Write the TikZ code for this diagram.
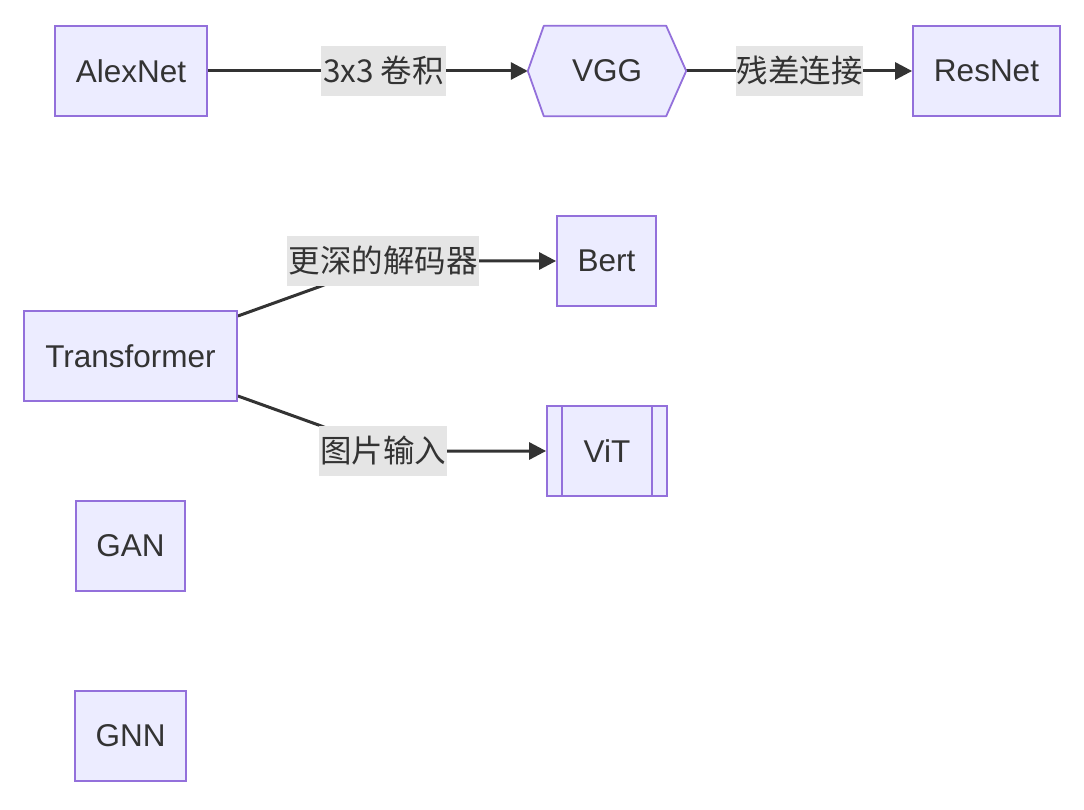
\documentclass[tikz,border=0pt]{standalone}
\usepackage{fontspec}
\setmainfont{Liberation Sans}
\newfontfamily\cjk{Noto Sans CJK SC}
\usetikzlibrary{arrows.meta,backgrounds}
\definecolor{nodefill}{HTML}{ECECFF}
\definecolor{nodeline}{HTML}{9370DB}
\definecolor{edgecol}{HTML}{333333}
\definecolor{labelbg}{RGB}{229,229,229}
\pgfdeclarelayer{edgelayer}
\pgfsetlayers{background,edgelayer,main}
\tikzset{
  box/.style={draw=nodeline, fill=nodefill, line width=1.8pt, inner sep=0pt,
    minimum height=90pt, text=edgecol, font=\fontsize{31.5}{36}\selectfont},
  plain/.style={draw=none, inner sep=0pt, minimum height=90pt, text=edgecol,
    font=\fontsize{31.5}{36}\selectfont},
  lbl/.style={fill=labelbg, inner sep=0pt, minimum height=50pt, text=edgecol,
    font=\fontsize{31.5}{36}\selectfont\cjk},
  edge/.style={draw=edgecol, line width=3pt, -{Triangle[length=17pt,width=17pt]}},
}
\begin{document}
\begin{tikzpicture}[x=1pt,y=-1pt]
\useasboundingbox (0,0) rectangle (1084,810);
% nodes
\node[box, minimum width=152pt] (alex) at (131,71) {AlexNet};
\node[plain, minimum width=158pt] (vgg) at (607,71) {VGG};
\node[box, minimum width=147pt] (res) at (986.5,71) {ResNet};
\node[box, minimum width=99pt] (bert) at (606.5,261) {Bert};
\node[box, minimum width=213pt] (tr) at (130.5,356) {Transformer};
\node[box, minimum width=120pt] (vit) at (607,451) {ViT};
\node[box, minimum width=109pt] (gan) at (130.5,546) {GAN};
\node[box, minimum width=111pt] (gnn) at (130.5,736) {GNN};
% hexagon for VGG
\begin{scope}[on background layer]
\fill[nodefill] (vgg.west) -- ([xshift=16pt]vgg.north west) -- ([xshift=-20pt]vgg.north east)
  -- (vgg.east) -- ([xshift=-20pt]vgg.south east) -- ([xshift=16pt]vgg.south west) -- cycle;
\end{scope}
\draw[nodeline, line width=1.8pt, line join=round] (vgg.west) -- ([xshift=16pt]vgg.north west) -- ([xshift=-20pt]vgg.north east)
  -- (vgg.east) -- ([xshift=-20pt]vgg.south east) -- ([xshift=16pt]vgg.south west) -- cycle;
% subroutine lines for ViT
\draw[nodeline, line width=1.8pt] ([xshift=16pt]vit.north west) -- ([xshift=16pt]vit.south west);
\draw[nodeline, line width=1.8pt] ([xshift=-16pt]vit.north east) -- ([xshift=-16pt]vit.south east);
% labels
\node[lbl, minimum width=125pt] (l1) at (383.5,71) {3x3 卷积};
\node[lbl, minimum width=127pt] (l2) at (799.5,71) {残差连接};
\node[lbl, minimum width=192pt] (l3) at (383,261) {更深的解码器};
\node[lbl, minimum width=128pt] (l4) at (383,451) {图片输入};
% edges
\begin{pgfonlayer}{edgelayer}
\draw[edge] (alex.east) -- (vgg.west);
\draw[edge] (vgg.east) -- (res.west);
\draw[edge] ([yshift=40pt]tr.east) -- ([xshift=34pt]l3.south west) -- (l3.center) -- (bert.west);
\draw[edge] ([yshift=-40pt]tr.east) -- ([xshift=2pt]l4.north west) -- (l4.center) -- (vit.west);
\end{pgfonlayer}
\end{tikzpicture}
\end{document}
